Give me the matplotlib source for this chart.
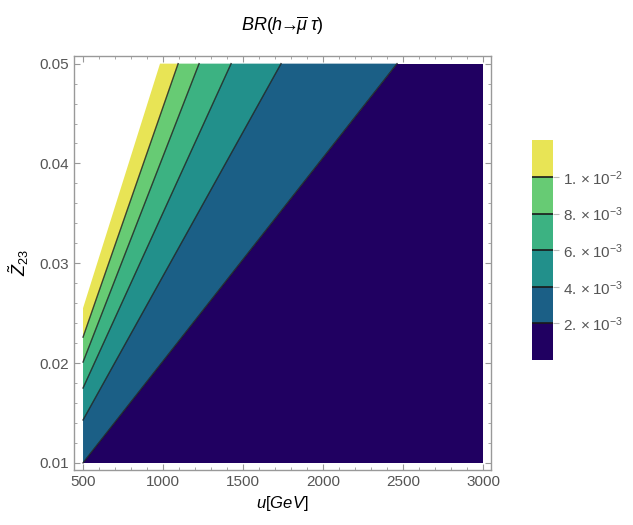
import matplotlib
matplotlib.use("Agg")
import matplotlib.pyplot as plt
from matplotlib.colors import ListedColormap, BoundaryNorm
from matplotlib.cm import ScalarMappable
from matplotlib.ticker import MultipleLocator

plt.rcParams['font.family'] = ['Liberation Sans', 'DejaVu Sans']
plt.rcParams['mathtext.fontset'] = 'custom'
plt.rcParams['mathtext.rm'] = 'Liberation Sans'
plt.rcParams['mathtext.it'] = 'Liberation Sans:italic'

# plot range
u_min, u_max = 500, 3000
z_min, z_max = 0.01, 0.05

# contour levels and where each contour line meets the left edge (u=500)
# and the top edge (Z=0.05)
levels = [2e-3, 4e-3, 6e-3, 8e-3, 1e-2]
z_at_left = [0.0100, 0.0143, 0.0175, 0.0201, 0.0226]
u_at_top = [2462, 1737, 1425, 1225, 1094]

# edge of the plotted region (values above the range are left white)
z_edge_left = 0.0255
u_edge_top = 981

band_colors = ['#200061', '#1b5f86', '#22908b', '#3cb282', '#67cb74', '#e8e455']
level_labels = [r'$2.\times10^{-3}$', r'$4.\times10^{-3}$', r'$6.\times10^{-3}$',
                r'$8.\times10^{-3}$', r'$1.\times10^{-2}$']

fig = plt.figure(figsize=(6.33, 5.25), dpi=100)
ax = fig.add_axes([0.117, 0.105, 0.659, 0.789])

# lowest band: everything below the 2e-3 line
ax.fill([u_min, u_max, u_max, u_at_top[0]],
        [z_min, z_min, z_max, z_max], color=band_colors[0], lw=0)

# bands between consecutive contour lines
left_pts = z_at_left + [z_edge_left]
top_pts = u_at_top + [u_edge_top]
for i in range(len(levels)):
    ax.fill([u_min, u_min, top_pts[i + 1], top_pts[i]],
            [left_pts[i], left_pts[i + 1], z_max, z_max],
            color=band_colors[i + 1], lw=0)

# contour lines
for zl, ut in zip(z_at_left, u_at_top):
    ax.plot([u_min, ut], [zl, z_max], color='#1a1a1a', lw=1.0, alpha=0.8)

ax.set_xlim(444, 3050)
ax.set_ylim(0.0093, 0.0508)
ax.xaxis.set_minor_locator(MultipleLocator(100))
ax.yaxis.set_minor_locator(MultipleLocator(0.002))
ax.set_xticks(range(500, 3001, 500))
ax.set_yticks([0.01, 0.02, 0.03, 0.04, 0.05])
ax.set_yticklabels(['0.01', '0.02', '0.03', '0.04', '0.05'])

frame_col = '#999999'
for s in ax.spines.values():
    s.set_color(frame_col)
    s.set_linewidth(1.0)
ax.tick_params(which='both', direction='in', color=frame_col, top=True, right=True,
               labelcolor='#555555', labelsize=11)
ax.tick_params(which='major', length=4)
ax.tick_params(which='minor', length=2)

ax.set_xlabel(r'$u[GeV]$', fontsize=12, labelpad=4)
ax.set_ylabel(r'$\tilde{Z}_{23}$', fontsize=13, labelpad=6)
ax.set_title(r'$BR(h\!\!\rightarrow\!\!\overline{\mu}\;\tau)$', fontsize=13, pad=18)

# legend bar
bounds = [0] + levels + [1.25e-2]
cmap = ListedColormap(band_colors)
norm = BoundaryNorm(bounds, cmap.N)
cax = fig.add_axes([0.840, 0.314, 0.033, 0.419])
sm = ScalarMappable(norm=norm, cmap=cmap)
cb = fig.colorbar(sm, cax=cax, spacing='uniform', ticks=levels, drawedges=True)
cb.outline.set_visible(False)
cb.dividers.set_color('#1a1a1a')
cb.dividers.set_linewidth(1.2)
cb.ax.minorticks_off()
cb.ax.set_yticklabels(level_labels)
cb.ax.tick_params(length=4, color='#bbbbbb', labelcolor='#555555', labelsize=11)

fig.savefig("out.png", dpi=100)
